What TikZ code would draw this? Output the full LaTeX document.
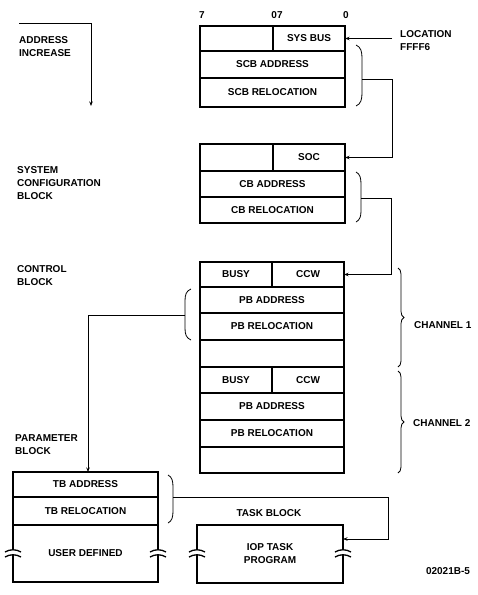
\documentclass[tikz,border=0pt]{standalone}
\usepackage{fontspec}
\setmainfont{Liberation Sans}
\usetikzlibrary{arrows.meta,decorations.pathreplacing}

\begin{document}
\begin{tikzpicture}[
      x=1pt, y=1pt,
      txt/.style={font=\bfseries\fontsize{10}{13}\selectfont, inner sep=0pt},
      cell/.style={txt, draw, line width=1.3pt, anchor=north west, outer sep=0pt, align=center},
      conn/.style={line width=0.8pt},
      arrow/.style={conn, -{Stealth[length=4.5pt, width=3.5pt]}},
      bracket/.style={line width=0.8pt},
      chbrace/.style={line width=0.8pt, decorate, decoration={brace, amplitude=6pt}},
      breakline/.style={line width=1.3pt},
    ]
    \useasboundingbox (0,0) rectangle (478,-595);

    % System configuration pointer
    \node[cell, minimum width=73pt, minimum height=25pt] (sbfree)   at (200,-26) {};
    \node[cell, minimum width=72pt, minimum height=25pt] (sysbus)   at (273,-26) {SYS BUS};
    \node[cell, minimum width=145pt, minimum height=27pt] (scbaddr)  at (200,-51) {SCB ADDRESS};
    \node[cell, minimum width=145pt, minimum height=29pt] (scbreloc) at (200,-78) {SCB RELOCATION};

    % System configuration block
    \node[cell, minimum width=73pt, minimum height=27pt] (socfree) at (200,-144) {};
    \node[cell, minimum width=72pt, minimum height=27pt] (soc)     at (273,-144) {SOC};
    \node[cell, minimum width=145pt, minimum height=26pt] (cbaddr)  at (200,-171) {CB ADDRESS};
    \node[cell, minimum width=145pt, minimum height=26pt] (cbreloc) at (200,-197) {CB RELOCATION};

    % Control block, two channels
    \node[cell, minimum width=72pt, minimum height=25pt]  (busyA)    at (200,-262) {BUSY};
    \node[cell, minimum width=72pt, minimum height=25pt]  (ccwA)     at (272,-262) {CCW};
    \node[cell, minimum width=144pt, minimum height=26pt] (pbaddrA)  at (200,-287) {PB ADDRESS};
    \node[cell, minimum width=144pt, minimum height=27pt] (pbrelocA) at (200,-313) {PB RELOCATION};
    \node[cell, minimum width=144pt, minimum height=27pt] (spareA)   at (200,-340) {};
    \node[cell, minimum width=72pt, minimum height=26pt]  (busyB)    at (200,-367) {BUSY};
    \node[cell, minimum width=72pt, minimum height=26pt]  (ccwB)     at (272,-367) {CCW};
    \node[cell, minimum width=144pt, minimum height=27pt] (pbaddrB)  at (200,-393) {PB ADDRESS};
    \node[cell, minimum width=144pt, minimum height=27pt] (pbrelocB) at (200,-420) {PB RELOCATION};
    \node[cell, minimum width=144pt, minimum height=26pt] (spareB)   at (200,-447) {};

    % Parameter block and task block
    \node[cell, minimum width=145pt, minimum height=25pt] (tbaddr)  at (13,-472) {TB ADDRESS};
    \node[cell, minimum width=145pt, minimum height=28pt] (tbreloc) at (13,-497) {TB RELOCATION};
    \node[cell, minimum width=145pt, minimum height=57pt] (userdef) at (13,-525) {USER DEFINED};
    \node[cell, minimum width=146pt, minimum height=58pt] (iop)     at (197,-525) {IOP TASK\\PROGRAM};

    % broken side walls
    \foreach \bx in {13,158,197,343} {
      \fill[white] (\bx-1.5,-550.4) rectangle (\bx+1.5,-554.2);
      \draw[breakline] (\bx-8,-552) .. controls (\bx-3,-549) and (\bx+3,-549) .. (\bx+8,-552);
      \draw[breakline] (\bx-8,-557) .. controls (\bx-3,-554) and (\bx+3,-554) .. (\bx+8,-557);
    }

    % Labels
    \node[txt] (bitA) at (202,-15) {7};
    \node[txt] (bitB) at (277,-15) {07};
    \node[txt] (bitC) at (346,-15) {0};
    \node[txt, anchor=west, align=left] (addr)  at (19,-47)  {ADDRESS\\INCREASE};
    \node[txt, anchor=west, align=left] (loc)   at (400,-41) {LOCATION\\FFFF6};
    \node[txt, anchor=west, align=left] (scb)   at (17,-183) {SYSTEM\\CONFIGURATION\\BLOCK};
    \node[txt, anchor=west, align=left] (cb)    at (17,-276) {CONTROL\\BLOCK};
    \node[txt, anchor=west, align=left] (pb)    at (15,-445) {PARAMETER\\BLOCK};
    \node[txt, anchor=west] (chA)  at (414,-325) {CHANNEL 1};
    \node[txt, anchor=west] (chB)  at (413,-423) {CHANNEL 2};
    \node[txt] (tb)   at (269,-513) {TASK BLOCK};
    \node[txt] (fig)  at (448,-571) {02021B-5};

    % Address increase arrow
    \coordinate (addrstart) at (19,-23);
    \coordinate (addrend)   at (91,-106);
    \draw[arrow] (addrstart) -| (addrend);

    % Brackets
    \draw[bracket] (356,-45) .. controls (361,-47) and (362,-52) .. (362,-58) -- (362,-93)
      .. controls (362,-99) and (361,-104) .. (356,-106);
    \draw[bracket] (356,-172) .. controls (360,-174) and (361,-178) .. (361,-184) -- (361,-211)
      .. controls (361,-216) and (360,-220) .. (356,-222);
    \draw[bracket] (191,-289) .. controls (186,-291) and (185,-295) .. (185,-301) -- (185,-328)
      .. controls (185,-334) and (186,-338) .. (191,-340);
    \draw[bracket] (168,-475) .. controls (172,-477) and (173,-481) .. (173,-487) -- (173,-511)
      .. controls (173,-517) and (172,-521) .. (168,-523);
    \draw[chbrace] (398,-268) -- (398,-367);
    \draw[chbrace] (398,-371) -- (398,-473);

    \coordinate (scbtip) at (362,-79);
    \coordinate (scbturn) at (392,-79);
    \coordinate (cbtip) at (361,-198);
    \coordinate (cbturn) at (391,-198);
    \coordinate (pbtip) at (185,-315);
    \coordinate (pbturn) at (88,-315);
    \coordinate (tbtip) at (173,-497);
    \coordinate (tbturn) at (388,-497);
    \coordinate (locstart) at (392,-38.5);

    % Pointer chain
    \draw[arrow] (locstart) -- (sysbus.east);
    \draw[arrow] (scbtip) -- (scbturn) |- (soc.east);
    \draw[arrow] (cbtip) -- (cbturn) |- (ccwA.east);
    \draw[arrow] (pbtip) -- (pbturn) -- (pbturn |- tbaddr.north);
    \draw[arrow] (tbtip) -- (tbturn) |- ([yshift=-14pt]iop.north east);
  \end{tikzpicture}
\end{document}
